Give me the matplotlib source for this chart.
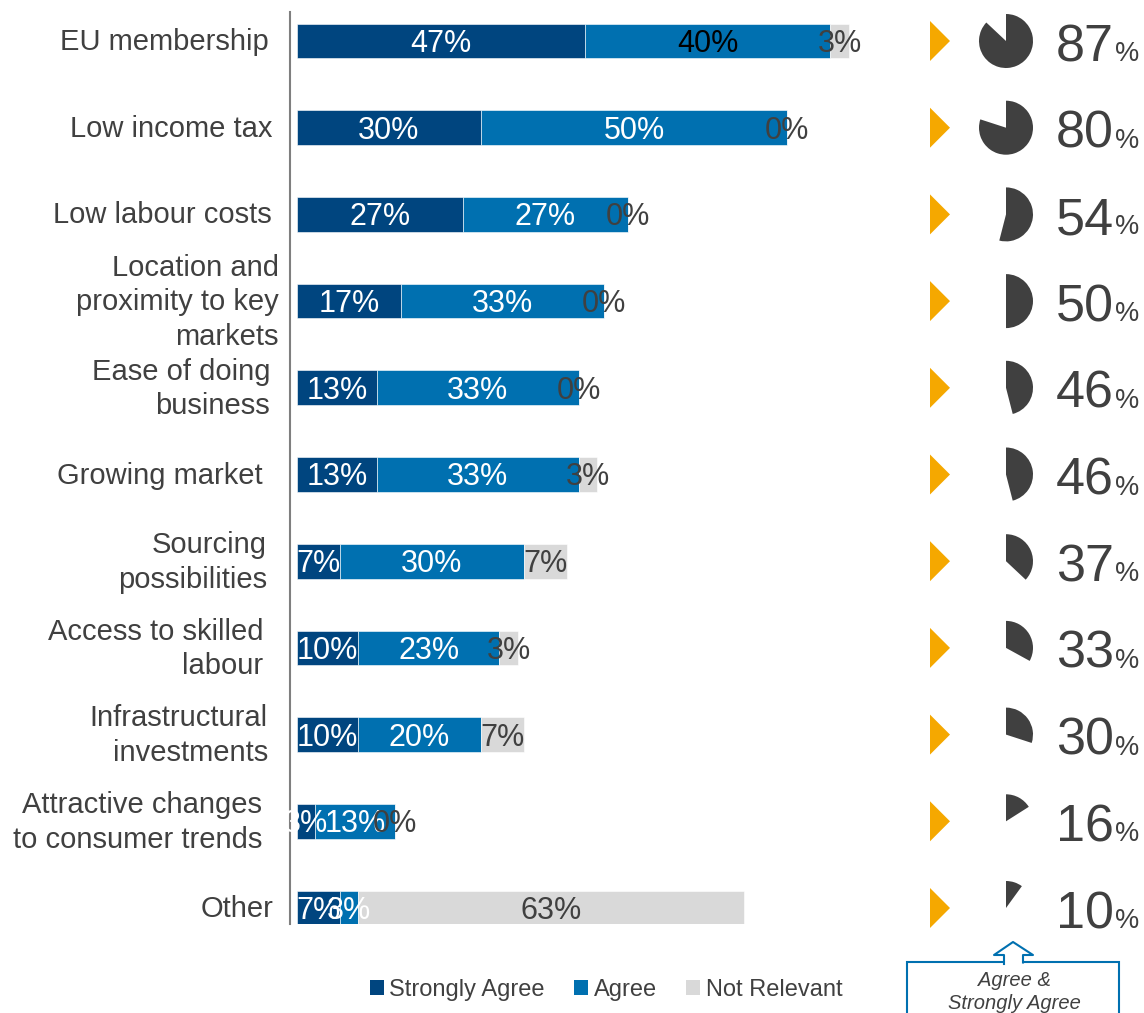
import matplotlib
matplotlib.use("Agg")
import matplotlib.pyplot as plt
import matplotlib.transforms as mtrans
from matplotlib.patches import Wedge, Polygon, Rectangle, Patch
from matplotlib.lines import Line2D

# ---------------- data ----------------
categories = ["EU membership", "Low income tax", "Low labour costs",
              "Location and\nproximity to key\nmarkets", "Ease of doing\nbusiness",
              "Growing market", "Sourcing\npossibilities", "Access to skilled\nlabour",
              "Infrastructural\ninvestments", "Attractive changes\nto consumer trends",
              "Other"]
strongly_agree = [47, 30, 27, 17, 13, 13, 7, 10, 10, 3, 7]
agree = [40, 50, 27, 33, 33, 33, 30, 23, 20, 13, 3]
not_relevant = [3, 0, 0, 0, 0, 3, 7, 3, 7, 0, 63]
agree_total = [87, 80, 54, 50, 46, 46, 37, 33, 30, 16, 10]
series_names = ["Strongly Agree", "Agree", "Not Relevant"]

# ---------------- style / layout ----------------
W, H, DPI = 1144, 1013, 100
C_SA, C_A, C_NR = "#00457F", "#0070B0", "#D9D9D9"
DARK = "#404040"
ORANGE = "#F5A800"
BLUE = "#0070B0"
plt.rcParams["font.family"] = ["Liberation Sans", "DejaVu Sans"]

label_right_px = [269, 273, 272, 279, 270, 263, 267, 263, 268, 262, 273]
agree_label_colors = ["black"] + ["white"] * 10
BAR_FS = 22
CAT_FS = 21

fig = plt.figure(figsize=(W / DPI, H / DPI), dpi=DPI)
fig.patch.set_facecolor("white")

def px_axes(l, t, r, b):
    return [l / W, 1 - b / H, (r - l) / W, (b - t) / H]

ax = fig.add_axes(px_axes(290, 12, 900, 924))
n = len(categories)
ypos = list(range(n))
bh = 0.40

lefts2 = list(strongly_agree)
lefts3 = [a + b for a, b in zip(strongly_agree, agree)]
ax.barh(ypos, strongly_agree, height=bh, color=C_SA, edgecolor="white", linewidth=0.4)
ax.barh(ypos, agree, left=lefts2, height=bh, color=C_A, edgecolor="white", linewidth=0.4)
ax.barh(ypos, not_relevant, left=lefts3, height=bh, color=C_NR, edgecolor="white", linewidth=0.4)

# labels: baseline shifted down by half the cap height so digits are centred on the bar
lab_tr = mtrans.offset_copy(ax.transData, fig=fig, x=0, y=-0.358 * BAR_FS, units="points")
for i in range(n):
    ax.text(strongly_agree[i] / 2, i, f"{strongly_agree[i]}%", ha="center", va="baseline",
            color="white", fontsize=BAR_FS, transform=lab_tr)
    ax.text(lefts2[i] + agree[i] / 2, i, f"{agree[i]}%", ha="center", va="baseline",
            color=agree_label_colors[i], fontsize=BAR_FS, transform=lab_tr)
    ax.text(lefts3[i] + not_relevant[i] / 2, i, f"{not_relevant[i]}%", ha="center",
            va="baseline", color=DARK, fontsize=BAR_FS, transform=lab_tr)

ax.set_xlim(-7 / 6.13, (900 - 297) / 6.13)
ax.set_ylim(10 + 16 / 86.7, -29 / 86.7)
ax.set_yticks([])
ax.set_xticks([])
for s in ["top", "right", "bottom"]:
    ax.spines[s].set_visible(False)
ax.spines["left"].set_color("#7F7F7F")
ax.spines["left"].set_linewidth(1.5)
ax.set_facecolor("none")

# legend
handles = [Patch(facecolor=c, edgecolor="none") for c in (C_SA, C_A, C_NR)]
leg = fig.legend(handles, series_names, loc="center", bbox_to_anchor=(606 / W, 1 - 990 / H),
                 ncol=3, frameon=False, fontsize=17, handlelength=0.6, handleheight=0.6,
                 handletextpad=0.22, columnspacing=1.25)
for t in leg.get_texts():
    t.set_color(DARK)

# ---------------- overlay in pixel coordinates ----------------
ov = fig.add_axes([0, 0, 1, 1])
ov.set_xlim(0, W)
ov.set_ylim(0, H)
ov.set_axis_off()

fig.canvas.draw()
cx, r = 1006, 27
for i in range(n):
    cy = ax.transData.transform((0, i))[1]  # display pixels, bottom origin
    # category label
    ov.text(label_right_px[i], cy - 1, categories[i], ha="right", va="center",
            multialignment="right", fontsize=CAT_FS, color=DARK, linespacing=1.3)
    # orange triangle
    ov.add_patch(Polygon([(930, cy + 20), (930, cy - 20), (950, cy)], closed=True,
                         facecolor=ORANGE, edgecolor="none"))
    # pie of agree total, from 12 o'clock clockwise
    p = agree_total[i] / 100.0
    ov.add_patch(Wedge((cx, cy), r, 90 - 360 * p, 90, facecolor=DARK, edgecolor="none"))
    ov.text(1114, cy - 20, f"{agree_total[i]}", ha="right", va="baseline",
            fontsize=37.5, color=DARK)
    ov.text(1115, cy - 20, "%", ha="left", va="baseline", fontsize=19.5, color=DARK)

# annotation box with upward hollow arrow
top = H - 962
ov.add_patch(Rectangle((907, -10), 1119 - 907, top + 10, facecolor="white",
                       edgecolor=BLUE, linewidth=1.5))
arrow = [(1004, H - 964), (1004, H - 955), (994, H - 955), (1013, H - 942),
         (1033, H - 955), (1023, H - 955), (1023, H - 964)]
ov.add_patch(Polygon(arrow, closed=True, facecolor="white", edgecolor="none", zorder=3))
ov.add_line(Line2D([q[0] for q in arrow[:6]] + [1023],
                   [q[1] for q in arrow[:6]] + [H - 962.5],
                   color=BLUE, linewidth=1.5, zorder=4))
ov.text(1014, H - 980, "Agree &", ha="center", va="center", fontsize=14.5,
        style="italic", color=DARK, zorder=5)
ov.text(1014, H - 1003, "Strongly Agree", ha="center", va="center", fontsize=14.5,
        style="italic", color=DARK, zorder=5)

fig.savefig("out.png", dpi=DPI, facecolor="white")
